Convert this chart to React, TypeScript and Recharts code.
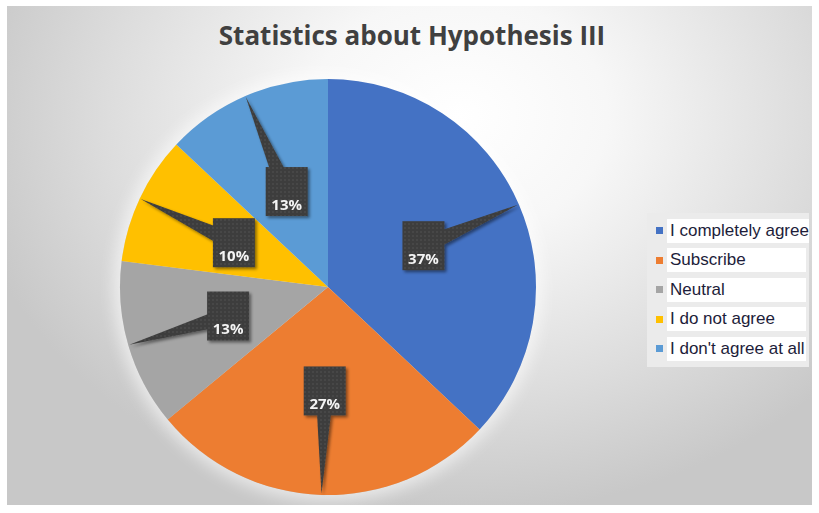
import React from "react";
import { PieChart, Pie, Cell, Legend } from "recharts";

const answers = ["I completely agree", "Subscribe", "Neutral", "I do not agree", "I don't agree at all"];
const shares = [37, 27, 13, 10, 13];
const sliceColors = ["#4472C4", "#ED7D31", "#A5A5A5", "#FFC000", "#5B9BD5"];

const data = answers.map((name, i) => ({ name, value: shares[i] }));

const W = 805;
const H = 499;
const CX = 321;
const CY = 281;
const R = 208;
const RAD = Math.PI / 180;

function CalloutLabel(props: any) {
  const { cx, cy, midAngle, outerRadius, percent } = props;
  const dx = Math.cos(-midAngle * RAD);
  const dy = Math.sin(-midAngle * RAD);
  const bx = cx + outerRadius * 0.5 * dx;
  const by = cy + outerRadius * 0.5 * dy;
  const tx = cx + outerRadius * 0.995 * dx;
  const ty = cy + outerRadius * 0.995 * dy;
  const px = -dy * 9;
  const py = dx * 9;
  const bw = 42;
  const bh = 49;
  const pts = `${bx + px},${by + py} ${tx},${ty} ${bx - px},${by - py}`;
  return (
    <g filter="url(#calloutShadow)">
      <polygon points={pts} fill="url(#dots)" />
      <rect x={bx - bw / 2} y={by - bh / 2} width={bw} height={bh} fill="url(#dots)" />
      <text
        x={bx}
        y={by + 12}
        textAnchor="middle"
        dominantBaseline="central"
        fill="#f4f4f4"
        fontSize={15}
        fontWeight="bold"
        fontFamily="'Open Sans', sans-serif"
      >
        {`${Math.round(percent * 100)}%`}
      </text>
    </g>
  );
}

function LegendBox() {
  return (
    <div style={{ background: "#ebebeb", padding: "3px 3px 3px 9px", width: 150 }}>
      {answers.map((name, i) => (
        <div key={name} style={{ display: "flex", alignItems: "center", height: 29.5 }}>
          <span style={{ width: 7, height: 7, background: sliceColors[i], marginRight: 4, flex: "none" }} />
          <span
            style={{
              background: "#fff",
              height: 24,
              lineHeight: "24px",
              flex: 1,
              paddingLeft: 3,
              whiteSpace: "nowrap",
              fontFamily: "'Liberation Sans', Arial, sans-serif",
              fontSize: 17,
              color: "#1d1d3a",
            }}
          >
            {name}
          </span>
        </div>
      ))}
    </div>
  );
}

export default function App() {
  return (
    <div
      style={{
        position: "absolute",
        left: 7,
        top: 6,
        width: W,
        height: H,
        overflow: "hidden",
        background:
          "radial-gradient(ellipse 62% 80% at 56% 22%, #ffffff 0%, #f7f7f7 30%, #dddddd 70%, #c8c8c8 100%)",
      }}
    >
      <svg width={0} height={0} style={{ position: "absolute" }}>
        <defs>
          <pattern id="dots" width={4} height={4} patternUnits="userSpaceOnUse">
            <rect width={4} height={4} fill="#3d3d3d" />
            <circle cx={2} cy={2} r={0.7} fill="#555" />
          </pattern>
          <filter id="calloutShadow" x="-30%" y="-30%" width="160%" height="160%">
            <feDropShadow dx={2} dy={2} stdDeviation={1.5} floodColor="#000" floodOpacity={0.45} />
          </filter>
        </defs>
      </svg>
      <div
        style={{
          position: "absolute",
          left: 0,
          right: 0,
          top: 11,
          textAlign: "center",
          paddingLeft: 5,
          fontFamily: "'Open Sans', sans-serif",
          fontWeight: 700,
          fontSize: 26,
          color: "#404040",
        }}
      >
        Statistics about Hypothesis III
      </div>
      <div
        style={{
          position: "absolute",
          left: CX - R,
          top: CY - R,
          width: 2 * R,
          height: 2 * R,
          borderRadius: "50%",
          boxShadow: "0 0 16px 6px rgba(255,255,255,0.6)",
        }}
      />
      <PieChart
        width={W}
        height={H}
        margin={{ top: 0, right: 0, bottom: 0, left: 0 }}
        style={{ position: "absolute", left: 0, top: 0 }}
      >
        <Pie
          data={data}
          dataKey="value"
          nameKey="name"
          cx={CX}
          cy={CY}
          outerRadius={R}
          startAngle={90}
          endAngle={-270}
          stroke="none"
          label={CalloutLabel}
          labelLine={false}
          isAnimationActive={false}
        >
          {data.map((d, i) => (
            <Cell key={d.name} fill={sliceColors[i]} />
          ))}
        </Pie>
        <Legend
          layout="vertical"
          content={LegendBox}
          wrapperStyle={{ position: "absolute", left: 640, top: 207, width: 162 }}
        />
      </PieChart>
    </div>
  );
}
